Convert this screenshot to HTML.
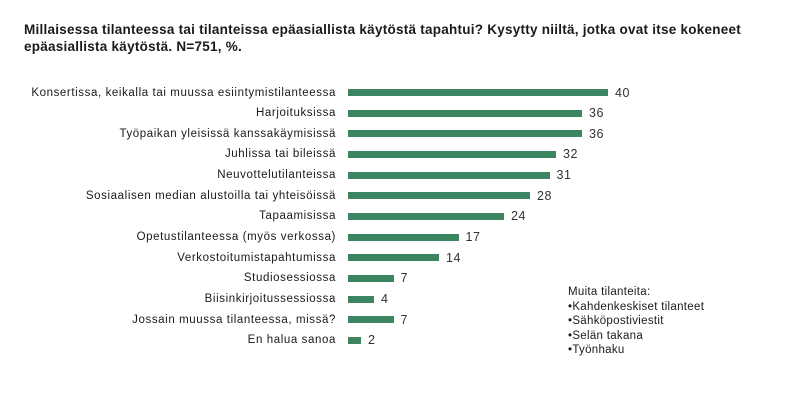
<!DOCTYPE html>
<html><head><meta charset="utf-8"><style>
body{margin:0;width:800px;height:400px;background:#fff;font-family:"Liberation Sans",sans-serif;color:#1a1a1a;position:relative;overflow:hidden}
.t{position:absolute;left:24px;top:21px;font-size:13.5px;font-weight:bold;line-height:17px;width:770px;letter-spacing:0.25px}
.l{position:absolute;right:464px;font-size:11.5px;letter-spacing:0.6px;white-space:nowrap;line-height:14px}
.b{position:absolute;left:348px;height:7px;background:#3d8560}
.v{position:absolute;font-size:12.5px;line-height:14px;color:#333;letter-spacing:0.5px}
.n{position:absolute;left:568px;top:285px;font-size:11.5px;letter-spacing:0.3px;line-height:14.5px}
</style></head><body>
<div class="t">Millaisessa tilanteessa tai tilanteissa epäasiallista käytöstä tapahtui? Kysytty niiltä, jotka ovat itse kokeneet epäasiallista käytöstä. N=751, %.</div>
<div id="c"></div>
<div class="n">Muita tilanteita:<br>•Kahdenkeskiset tilanteet<br>•Sähköpostiviestit<br>•Selän takana<br>•Työnhaku</div>
<script>
var d=[["Konsertissa, keikalla tai muussa esiintymistilanteessa",40],["Harjoituksissa",36],["Työpaikan yleisissä kanssakäymisissä",36],["Juhlissa tai bileissä",32],["Neuvottelutilanteissa",31],["Sosiaalisen median alustoilla tai yhteisöissä",28],["Tapaamisissa",24],["Opetustilanteessa (myös verkossa)",17],["Verkostoitumistapahtumissa",14],["Studiosessiossa",7],["Biisinkirjoitussessiossa",4],["Jossain muussa tilanteessa, missä?",7],["En halua sanoa",2]];
var h="";d.forEach(function(r,i){var y=92.5+i*20.65;var w=r[1]*6.5;
h+='<div class="l" style="top:'+(y-7)+'px">'+r[0]+'</div><div class="b" style="top:'+(y-3.5)+'px;width:'+w+'px"></div><div class="v" style="left:'+(348+w+7)+'px;top:'+(y-7)+'px">'+r[1]+'</div>';});
document.getElementById("c").innerHTML=h;
</script>
</body></html>
